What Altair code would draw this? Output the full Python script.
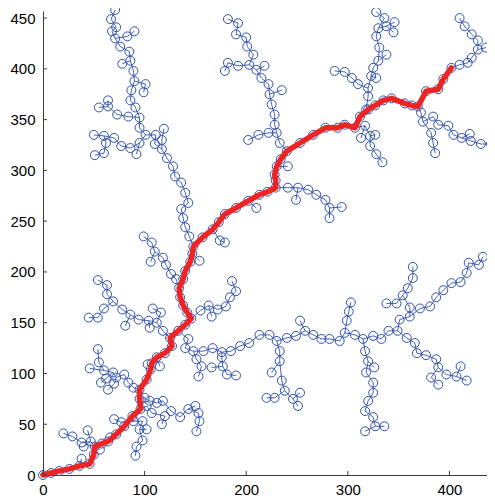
import altair as alt
import pandas as pd

# ---------------- data ----------------
X_TICKS = [0, 100, 200, 300, 400]
Y_TICKS = [0, 50, 100, 150, 200, 250, 300, 350, 400, 450]
X_DOMAIN = [0, 437]
Y_DOMAIN = [0, 457]

RED_PATH = [(0, 0), (8, 2), (16, 4), (26, 6), (36, 9), (46, 11), (50, 20), (51, 28), (58, 31),
            (64, 33), (72, 40), (80, 48), (88, 58), (96, 65), (95, 75), (95, 84), (102, 94),
            (106, 104), (107, 110), (112, 116), (120, 120), (127, 127), (125, 135), (133, 142),
            (140, 148), (146, 154), (142, 160), (138, 167), (135, 175), (134, 184), (138, 193),
            (140, 201), (145, 210), (147, 218), (148, 225), (157, 234), (167, 242), (173, 249),
            (179, 257), (190, 263), (202, 270), (213, 276), (221, 279), (229, 283), (229, 290),
            (228, 296), (230, 304), (234, 311), (240, 319), (253, 327), (266, 335), (278, 342),
            (290, 342), (297, 345), (307, 342), (312, 353), (320, 360), (327, 364), (335, 369),
            (343, 371), (356, 366), (363, 364), (369, 363), (377, 378), (389, 380), (394, 390),
            (402, 401)]

LOWER_LEFT = [
    [(51, 28), (47, 33), (38, 32), (29, 38), (20, 41)],
    [(47, 33), (44, 44)],
    [(47, 33), (40, 28)],
    [(36, 9), (38, 16)],
    [(51, 28), (56, 25)],
    [(64, 33), (66, 37)],
    [(95, 84), (89, 86), (84, 91), (80, 99), (72, 96), (69, 101), (60, 103), (55, 111), (54, 124)],
    [(60, 103), (46, 105)],
    [(72, 96), (70, 90), (64, 84)],
    [(69, 101), (62, 95), (57, 91)],
    [(95, 75), (100, 76), (105, 73), (112, 71), (118, 73), (126, 63), (135, 57), (143, 65), (150, 68)],
    [(143, 65), (153, 61), (154, 53), (151, 43)],
    [(96, 65), (102, 68), (107, 61), (120, 58), (117, 50)],
    [(88, 58), (89, 53), (98, 53), (95, 45), (98, 34), (92, 28), (91, 19)],
    [(95, 45), (102, 45)],
    [(89, 53), (77, 52), (70, 55)],
    [(106, 104), (103, 109)],
    [(112, 116), (115, 107)],
]

MIDDLE_LEFT = [
    [(125, 135), (118, 142), (112, 150), (104, 152), (94, 153), (86, 158), (78, 163), (69, 171),
     (63, 178), (63, 187), (54, 192)],
    [(69, 171), (60, 164), (54, 155), (45, 155)],
    [(86, 158), (81, 147)],
    [(112, 150), (116, 160), (108, 164)],
    [(104, 152), (105, 145)],
    [(134, 184), (131, 193), (126, 198), (121, 207), (118, 214), (110, 220), (107, 229), (99, 235)],
    [(110, 220), (106, 210)],
    [(146, 154), (155, 162), (163, 167), (172, 163), (180, 166), (184, 175), (190, 181), (186, 191)],
    [(163, 167), (166, 156)],
    [(147, 218), (154, 211)],
    [(167, 242), (174, 231), (179, 229)],
    [(202, 270), (210, 263)],
    [(230, 304), (241, 304)],
    [(229, 283), (241, 283), (251, 283), (261, 281), (269, 276), (278, 271), (282, 263), (294, 264)],
    [(282, 263), (282, 253)],
    [(251, 283), (249, 271)],
]

MIDDLE_RIGHT = [
    [(133, 142), (143, 134), (140, 125), (148, 122), (158, 122), (167, 125), (176, 121), (185, 122),
     (194, 127), (203, 130), (213, 138), (223, 138), (230, 132), (240, 135), (249, 137), (258, 142),
     (266, 138), (274, 134), (282, 134), (292, 132), (297, 140), (307, 138), (315, 134), (325, 137),
     (333, 134), (340, 142), (349, 142), (358, 135), (366, 130), (368, 120), (377, 118), (387, 114),
     (389, 106), (382, 96), (389, 89)],
    [(389, 106), (397, 99), (407, 97), (417, 93)],
    [(407, 97), (411, 107)],
    [(297, 140), (299, 152), (301, 161), (303, 170)],
    [(258, 142), (253, 152)],
    [(230, 132), (233, 122), (233, 112), (225, 101)],
    [(233, 112), (235, 93), (238, 83), (228, 76), (220, 76)],
    [(238, 83), (246, 75), (251, 68)],
    [(246, 75), (253, 81)],
    [(315, 134), (317, 122), (320, 112), (326, 106)],
    [(320, 112), (318, 101), (325, 91), (325, 81), (320, 73), (317, 63), (325, 57), (327, 48), (317, 43)],
    [(327, 48), (336, 48)],
    [(176, 121), (176, 116), (177, 107), (181, 99), (190, 98)],
    [(177, 107), (166, 106)],
    [(148, 122), (151, 114), (156, 107), (153, 97)],
    [(349, 142), (351, 153), (361, 156), (371, 164), (381, 166), (387, 175), (394, 182), (402, 189),
     (411, 190), (417, 199), (419, 209), (429, 207), (433, 215)],
    [(361, 156), (361, 165), (354, 177), (359, 184), (364, 194), (364, 205)],
    [(354, 177), (348, 169), (338, 169)],
]

TOP_LEFT = [
    [(148, 225), (144, 235), (140, 244), (138, 253), (136, 262), (143, 268), (140, 278), (136, 288),
     (130, 294), (128, 304), (122, 312), (117, 321), (110, 326), (111, 335), (101, 335), (95, 342),
     (95, 352), (91, 362), (86, 369), (87, 379), (90, 388), (89, 398), (86, 408), (85, 417), (76, 422),
     (71, 430), (68, 437), (72, 441), (67, 449), (71, 458)],
    [(117, 321), (117, 330), (119, 341)],
    [(101, 335), (95, 327), (92, 316)],
    [(95, 327), (86, 322), (77, 324), (70, 332), (60, 334), (50, 335)],
    [(60, 334), (62, 327), (60, 317), (51, 315)],
    [(95, 352), (84, 353), (73, 355), (64, 363), (55, 362)],
    [(64, 363), (64, 369)],
    [(90, 388), (101, 385), (99, 377)],
    [(86, 408), (78, 405)],
    [(71, 430), (83, 432), (90, 437)],
]

TOP_MIDDLE = [
    [(240, 319), (233, 327), (230, 337), (228, 345), (228, 355), (225, 365), (223, 375), (222, 385),
     (215, 391), (210, 399), (203, 404), (207, 414), (201, 422), (200, 431), (190, 434), (192, 445),
     (182, 449)],
    [(230, 337), (222, 337), (212, 335), (202, 330)],
    [(223, 375), (235, 379)],
    [(210, 399), (218, 403)],
    [(203, 404), (192, 403), (182, 406), (179, 398)],
]

TOP_RIGHT = [
    [(312, 353), (318, 360), (320, 373), (320, 381), (323, 393), (325, 401), (330, 408), (331, 421),
     (328, 432), (330, 440), (336, 450), (328, 456)],
    [(330, 408), (338, 414)],
    [(330, 440), (338, 442), (345, 436)],
    [(338, 442), (346, 446)],
    [(323, 393), (328, 391)],
    [(320, 381), (310, 385), (304, 391), (297, 397), (287, 398)],
    [(307, 342), (317, 344), (313, 332)],
    [(317, 344), (322, 334), (327, 335)],
    [(322, 334), (322, 324), (328, 316), (334, 308)],
    [(402, 401), (410, 404), (418, 406), (422, 411), (428, 419), (436, 421)],
    [(428, 419), (428, 428), (422, 434), (415, 442), (410, 450)],
    [(369, 363), (372, 357), (374, 348), (384, 353), (389, 345), (399, 344), (404, 335), (412, 332),
     (421, 329), (431, 326), (441, 326)],
    [(412, 332), (420, 336)],
    [(374, 348), (382, 337), (384, 327), (386, 317)],
]

# ---------------- tables built from the data ----------------
edge_rows = []
node_set = set()
bid = 0
for group in [LOWER_LEFT, MIDDLE_LEFT, MIDDLE_RIGHT, TOP_LEFT, TOP_MIDDLE, TOP_RIGHT]:
    for branch in group:
        for i, (x, y) in enumerate(branch):
            edge_rows.append({"x": x, "y": y, "b": bid, "i": i})
            node_set.add((x, y))
        bid += 1
for (x, y) in RED_PATH:
    node_set.add((x, y))

edges = pd.DataFrame(edge_rows)
nodes = pd.DataFrame(sorted(node_set), columns=["x", "y"])
red = pd.DataFrame([{"x": x, "y": y, "i": i} for i, (x, y) in enumerate(RED_PATH)])
xt = pd.DataFrame({"x": X_TICKS})
yt = pd.DataFrame({"y": Y_TICKS})

W, H = 444, 464
BLUE = "#3050ae"
RED = "#ec2424"
AXC = "#3a3a3a"

xs = alt.Scale(domain=X_DOMAIN, nice=False, zero=False)
ys = alt.Scale(domain=Y_DOMAIN, nice=False, zero=False)


def xax():
    return alt.Axis(values=X_TICKS, ticks=False, grid=False, domainColor=AXC, domainWidth=1,
                    labelColor="#000000", labelFontSize=15, labelFont="Liberation Sans",
                    labelPadding=7, title="", labelFlush=False)


def yax():
    return alt.Axis(values=Y_TICKS, ticks=False, grid=False, domainColor=AXC, domainWidth=1,
                    labelColor="#000000", labelFontSize=15, labelFont="Liberation Sans",
                    labelPadding=8, title="", labelFlush=False)


X = alt.X("x:Q", scale=xs, axis=xax())
Y = alt.Y("y:Q", scale=ys, axis=yax())

edge_layer = alt.Chart(edges).mark_line(color=BLUE, strokeWidth=0.9).encode(
    x=X, y=Y, detail="b:N", order="i:Q",
)

node_layer = alt.Chart(nodes).mark_point(shape="circle", filled=False, size=80,
                                         color=BLUE, strokeWidth=1, opacity=1).encode(
    x=X, y=Y,
)

red_layer = alt.Chart(red).mark_line(color=RED, strokeWidth=5.5, strokeJoin="round",
                                     strokeCap="round").encode(
    x=X, y=Y, order="i:Q",
)

xtick_layer = alt.Chart(xt).mark_rule(color=AXC, strokeWidth=1).encode(
    x=X,
    y=alt.value(H),
    y2=alt.value(H - 4),
)
ytick_layer = alt.Chart(yt).mark_rule(color=AXC, strokeWidth=1).encode(
    y=Y,
    x=alt.value(0),
    x2=alt.value(4),
)

chart = alt.layer(edge_layer, node_layer, red_layer, xtick_layer, ytick_layer).properties(
    width=W, height=H,
    autosize=alt.AutoSizeParams(type="none"),
    padding={"left": 35, "top": 3, "right": 0, "bottom": 21},
).configure_view(stroke="transparent")

chart.save("out.html", embed_options={"renderer": "svg", "actions": False})
